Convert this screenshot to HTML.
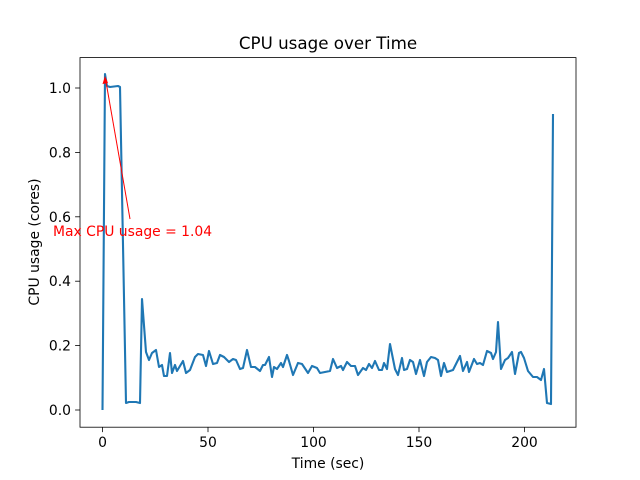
<!DOCTYPE html>
<html><head><meta charset="utf-8"><style>body{margin:0;background:#fff}svg{display:block}text{font-family:"DejaVu Sans","Liberation Sans",sans-serif}</style></head>
<body>
<svg width="640" height="480" viewBox="0 0 640 480" xmlns="http://www.w3.org/2000/svg">
<rect width="640" height="480" fill="#fff"/>
<polyline fill="none" stroke="#1f77b4" stroke-width="2.1" stroke-linejoin="round" points="102.5,410 105,74 107,86 110,87 118,86 120,87 126,403 129,402 136,402 140,403 142,299 146,352 149,360 152,353 156,350 159,367 162,365 164,376 167,376 170,353 172,373 175,365 177,371 183,361 186,373 190,370 195,357 198,354 203,355 206,366 209,351 213,364 217,363 220,355 224,357 229,362 233,359 236,360 240,369 243,368 247,350 251,367 255,367 260,371 263,365 265,365 269,357 272,377 274,367 277,369 281,363 283,367 287,355 289,361 293,375 298,363 302,364 308,373 312,366 317,368 320,373 330,371 333,359 337,368 341,366 343,370 347,362 351,366 355,366 358,375 363,368 366,370 369,364 372,368 375,361 379,370 382,370 384,363 387,369 390,344 395,369 398,375 402,358 404,370 407,369 410,360 413,362 416,374 420,360 424,376 427,362 431,357 435,358 438,360 441,376 444,363 447,372 453,370 457,362 460,356 463,371 467,362 469,372 474,359 477,364 480,363 483,365 487,351 491,353 493,359 496,352 498,322 501,369 505,360 508,358 512,352 515,374 519,353 521,352 524,358 528,371 533,377 537,377 541,380 544,369 547,403 551,404 553,114"/>
<rect x="80" y="57.6" width="496" height="369.6" fill="none" stroke="#000" stroke-width="0.8"/>
<g stroke="#000" stroke-width="0.8">
<line x1="102.5" y1="427.2" x2="102.5" y2="432.1"/><line x1="208" y1="427.2" x2="208" y2="432.1"/><line x1="313.5" y1="427.2" x2="313.5" y2="432.1"/><line x1="419" y1="427.2" x2="419" y2="432.1"/><line x1="524.5" y1="427.2" x2="524.5" y2="432.1"/>
<line x1="75.1" y1="410" x2="80" y2="410"/><line x1="75.1" y1="345.6" x2="80" y2="345.6"/><line x1="75.1" y1="281.2" x2="80" y2="281.2"/><line x1="75.1" y1="216.8" x2="80" y2="216.8"/><line x1="75.1" y1="152.4" x2="80" y2="152.4"/><line x1="75.1" y1="88" x2="80" y2="88"/>
</g>
<g font-size="13.9" fill="#000" text-anchor="middle">
<text x="102.5" y="447">0</text><text x="208" y="447">50</text><text x="313.5" y="447">100</text><text x="419" y="447">150</text><text x="524.5" y="447">200</text>
</g>
<g font-size="13.9" fill="#000" text-anchor="end">
<text x="71" y="415">0.0</text><text x="71" y="350.6">0.2</text><text x="71" y="286.2">0.4</text><text x="71" y="221.8">0.6</text><text x="71" y="157.4">0.8</text><text x="71" y="93">1.0</text>
</g>
<text x="328" y="468" font-size="13.9" text-anchor="middle">Time (sec)</text>
<text transform="translate(39,242) rotate(-90)" font-size="13.9" text-anchor="middle">CPU usage (cores)</text>
<text x="328" y="49" font-size="16.7" text-anchor="middle">CPU usage over Time</text>
<line x1="130" y1="219" x2="105.5" y2="79" stroke="#f00" stroke-width="1"/>
<path d="M105,76 L102.5,84 L108,83 Z" fill="#f00"/>
<text x="53" y="236" font-size="13.9" fill="#f00">Max CPU usage = 1.04</text>
</svg>
</body></html>
